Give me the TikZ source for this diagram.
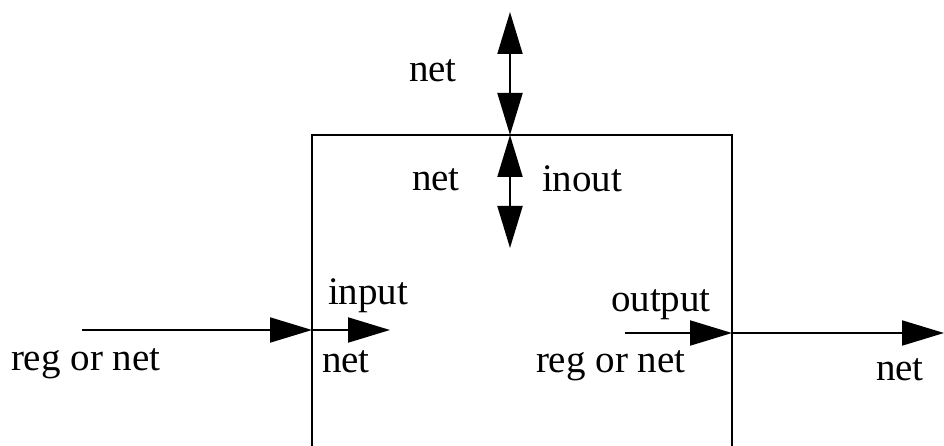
\documentclass[tikz,border=0pt]{standalone}
\usepackage{fontspec}
\setmainfont{Liberation Serif}
\usetikzlibrary{arrows.meta}

\begin{document}
\begin{tikzpicture}[x=1pt,y=-1pt,line width=2pt,
    bigtri/.tip={Triangle[length=42pt,width=25pt]},
    every node/.style={anchor=base west,inner sep=0pt,font=\fontsize{39}{46}\selectfont}]
    \useasboundingbox (0,0) rectangle (944,446);

    % Module box (open at the bottom)
    \draw (312,446) -- (312,135) -- (732,135) -- (732,446);

    % Ports
    \coordinate (topend)  at (510,12);
    \coordinate (inoutp)  at (510,135);
    \coordinate (inend)   at (510,248);
    \coordinate (instart) at (82,330);
    \coordinate (inp)     at (312,330);
    \coordinate (instub)  at (390,330);
    \coordinate (outdrv)  at (625,333);
    \coordinate (outp)    at (732,333);
    \coordinate (outend)  at (944,333);

    % inout
    \draw[bigtri-bigtri] (topend) -- (inoutp);
    \draw[bigtri-bigtri] (inoutp) -- (inend);
    \node (ionetup) at (408,82)  {net};
    \node (ionetin) at (411,191) {net};
    \node (iolbl)   at (541,192) {inout};

    % input
    \draw[-bigtri] (instart) -- (inp);
    \draw[-bigtri] (inp) -- (instub);
    \node (inlbl)   at (327,304) {input};
    \node (inreg)   at (10,370)  {reg or net};
    \node (innet)   at (321,372) {net};

    % output
    \draw[-bigtri] (outdrv) -- (outp);
    \draw[-bigtri] (outp) -- (outend);
    \node (outlbl)  at (610,311) {output};
    \node (outreg)  at (535,372) {reg or net};
    \node (outnet)  at (875,380) {net};
\end{tikzpicture}
\end{document}
